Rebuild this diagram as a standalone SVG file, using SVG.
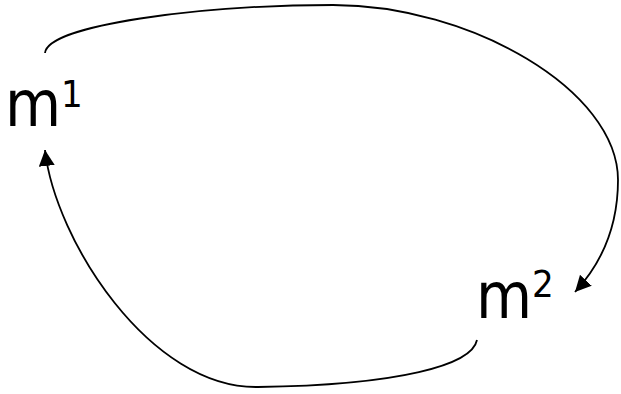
<svg xmlns="http://www.w3.org/2000/svg" width="621" height="394" viewBox="0 0 621 394">
<style>
.lbl{font-family:"DejaVu Sans",sans-serif;font-stretch:condensed;font-size:64px;fill:#000}
.sup{font-size:38px}
.edge{fill:none;stroke:#000;stroke-width:1.8}
</style>
<defs>
<marker id="arr" markerUnits="userSpaceOnUse" markerWidth="17" markerHeight="17" refX="16" refY="8" orient="auto">
<path d="M0,0 L16,8 L0,16 z" fill="#000"/>
</marker>
</defs>
<rect width="621" height="394" fill="#fff"/>
<g id="connectors">
<path class="edge" d="M45,53 C48,25 200,5 333,5 C470,5 618,90 618,180 C618,230 600,265 575,292" marker-end="url(#arr)"/>
<path class="edge" d="M477,340 C472,365 400,385 258,387 C150,389 55,240 45,150" marker-end="url(#arr)"/>
</g>
<g id="m1">
<text class="lbl" x="5" y="126">m<tspan class="sup" dy="-19">1</tspan></text>
</g>
<g id="m2">
<text class="lbl" x="476" y="318">m<tspan class="sup" dy="-21">2</tspan></text>
</g>
</svg>
